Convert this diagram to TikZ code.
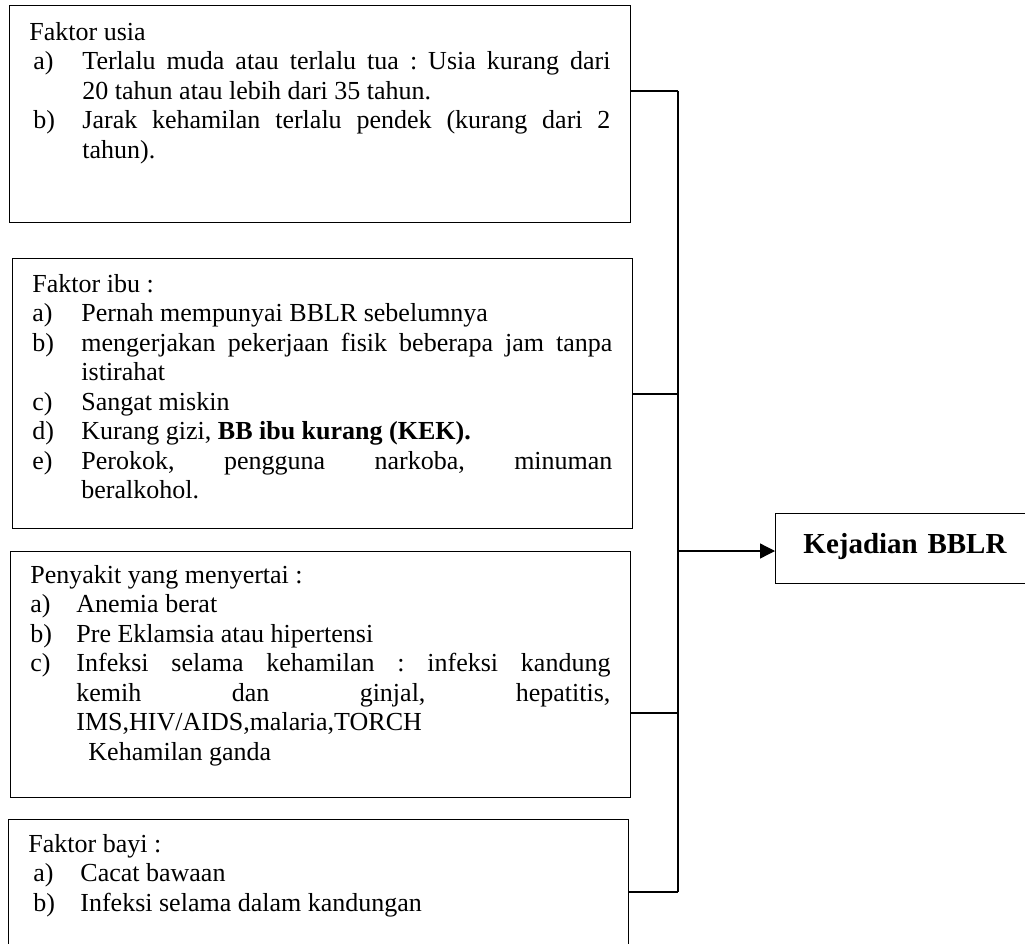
\documentclass[tikz,border=0pt]{standalone}
\usepackage{fontspec}
\setmainfont{Liberation Serif}
\usetikzlibrary{positioning,arrows.meta}

\newlength{\lebar}
\newcommand{\butir}[3][0pt]{\par\noindent\hangindent=\lebar\hbox to\lebar{\hspace*{#1}#2\hfil}#3\par}
\hyphenpenalty=10000
\exhyphenpenalty=10000
\tolerance=10000
\frenchspacing

\begin{document}
\begin{tikzpicture}[x=1pt,y=-1pt,
    faktor/.style={draw,line width=0.9pt,anchor=north west,inner xsep=20pt,inner ysep=0pt,
      align=justify,text width=580pt,font=\fontsize{26pt}{29.5pt}\selectfont},
    hasil/.style={draw,line width=0.9pt,anchor=north west,inner xsep=28pt,inner ysep=0pt,
      align=left,text width=260pt,font=\bfseries\fontsize{29pt}{34pt}\selectfont},
    garis/.style={line width=1.3pt}
]
\clip (0,0) rectangle (1025,944);

\node[faktor,text width=581pt,text height=35pt,text depth=182pt] (usia) at (9,5) {%
  \setlength{\lebar}{53pt}Faktor usia
  \butir[4pt]{a)}{Terlalu muda atau terlalu tua : Usia kurang dari\linebreak 20 tahun atau lebih dari 35 tahun.}
  \butir[4pt]{b)}{Jarak kehamilan terlalu pendek (kurang dari 2\linebreak tahun).}};

\node[faktor,text height=34pt,text depth=236pt] (ibu) at (12,258) {%
  \setlength{\lebar}{49pt}Faktor ibu :
  \butir{a)}{Pernah mempunyai BBLR sebelumnya}
  \butir{b)}{mengerjakan pekerjaan fisik beberapa jam tanpa\linebreak istirahat}
  \butir{c)}{Sangat miskin}
  \butir{d)}{Kurang gizi, \textbf{BB ibu kurang (KEK).}}
  \butir{e)}{Perokok, pengguna narkoba, minuman\linebreak beralkohol.}};

\node[faktor,text height=32pt,text depth=214pt] (penyakit) at (10,551) {%
  \setlength{\lebar}{46pt}Penyakit yang menyertai :
  \butir{a)}{Anemia berat}
  \butir{b)}{Pre Eklamsia atau hipertensi}
  \butir{c)}{Infeksi selama kehamilan : infeksi kandung\linebreak kemih dan ginjal, hepatitis,\linebreak IMS,HIV/AIDS,malaria,TORCH}
  \noindent\hspace*{58pt}Kehamilan ganda};

\node[faktor,text height=33pt,text depth=140pt] (bayi) at (8,819) {%
  \setlength{\lebar}{52pt}Faktor bayi :
  \butir[5pt]{a)}{Cacat bawaan}
  \butir[5pt]{b)}{Infeksi selama dalam kandungan}};

\node[hasil,text height=40pt,text depth=30pt] (kejadian) at (775,513) {Kejadian BBLR};

\coordinate (atas) at (678,91);
\coordinate (bawah) at (678,892);
\coordinate (panah) at (678,551);

\draw[garis] (atas) -- (bawah);
\foreach \y/\kotak in {91/usia,394/ibu,713/penyakit,892/bayi}{
  \coordinate (j) at (678,\y);
  \draw[garis] (\kotak.east |- j) -- (j);
}
\draw[garis,-{Triangle[length=15pt,width=15pt]}] (panah) -- (panah -| kejadian.west);

\end{tikzpicture}
\end{document}
